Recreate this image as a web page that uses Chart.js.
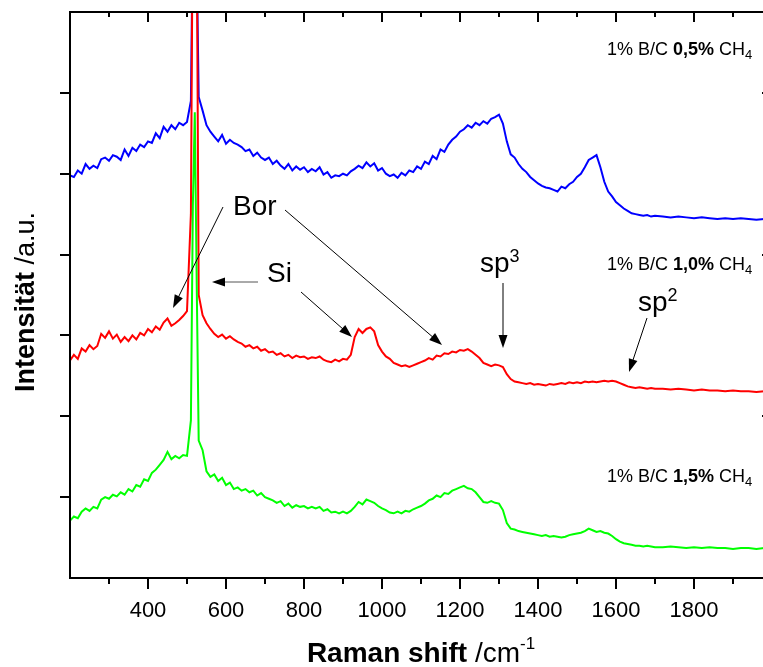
<!DOCTYPE html>
<html>
<head>
<meta charset="utf-8">
<script src="https://cdn.jsdelivr.net/npm/chart.js@4.4.1/dist/chart.umd.min.js"></script>
<style>
  html, body { margin: 0; padding: 0; background: #fff; overflow: hidden; }
  #wrap { width: 763px; height: 667px; overflow: hidden; }
</style>
</head>
<body>
<div id="wrap"><canvas id="raman" width="790" height="667"></canvas></div>
<script>
// Raman shift grid (cm^-1), denser around the Si line at 520
const shift = [
  200, 210, 220, 230, 240, 250, 260, 270, 280, 290,
  300, 310, 320, 330, 340, 350, 360, 370, 380, 390,
  400, 410, 420, 430, 440, 450, 460, 470, 480, 490,
  500, 510, 515, 520, 525, 530,
  540, 550, 560, 570, 580, 590, 600, 610, 620, 630,
  640, 650, 660, 670, 680, 690, 700, 710, 720, 730,
  740, 750, 760, 770, 780, 790, 800, 810, 820, 830,
  840, 850, 860, 870, 880, 890, 900, 910, 920, 930,
  940, 950, 960, 970, 980, 990, 1000, 1010, 1020, 1030,
  1040, 1050, 1060, 1070, 1080, 1090, 1100, 1110, 1120, 1130,
  1140, 1150, 1160, 1170, 1180, 1190, 1200, 1210, 1220, 1230,
  1240, 1250, 1260, 1270, 1280, 1290, 1300, 1310, 1320, 1330,
  1340, 1350, 1360, 1370, 1380, 1390, 1400, 1410, 1420, 1430,
  1440, 1450, 1460, 1470, 1480, 1490, 1500, 1510, 1520, 1530,
  1540, 1550, 1560, 1570, 1580, 1590, 1600, 1610, 1620, 1630,
  1640, 1650, 1660, 1670, 1680, 1690, 1700,
  1720, 1740, 1760, 1780, 1800, 1820, 1840, 1860, 1880, 1900,
  1920, 1940, 1960, 1980, 2000
];

// 1% B/C 0,5% CH4 (blue, offset on top)
const ch4_05 = [
  4.98, 4.96, 5.04, 5.00, 5.12, 5.06, 5.10, 5.07, 5.18, 5.20,
  5.16, 5.23, 5.21, 5.17, 5.30, 5.22, 5.32, 5.28, 5.36, 5.33,
  5.40, 5.38, 5.50, 5.44, 5.58, 5.52, 5.60, 5.55, 5.63, 5.60,
  5.64, 5.90, 8.00, 9.50, 7.60, 5.95,
  5.78, 5.60, 5.52, 5.46, 5.40, 5.48, 5.37, 5.42, 5.38, 5.36,
  5.33, 5.28, 5.30, 5.22, 5.26, 5.20, 5.17, 5.20, 5.12, 5.16,
  5.10, 5.06, 5.12, 5.04, 5.09, 5.05, 5.08, 5.02, 5.06, 5.03,
  5.08, 4.99, 5.02, 4.95, 4.98, 4.97, 5.00, 4.98, 5.03, 5.06,
  5.10, 5.07, 5.14, 5.09, 5.13, 5.04, 5.07, 5.00, 4.97, 4.99,
  4.95, 5.01, 4.98, 5.04, 5.02, 5.09, 5.06, 5.15, 5.12, 5.22,
  5.18, 5.30, 5.27, 5.36, 5.42, 5.46, 5.52, 5.55, 5.60, 5.57,
  5.63, 5.60, 5.65, 5.62, 5.68, 5.70, 5.73, 5.62, 5.40, 5.24,
  5.20, 5.12, 5.06, 5.02, 4.96, 4.92, 4.88, 4.85, 4.83, 4.82,
  4.80, 4.78, 4.84, 4.82, 4.87, 4.90, 4.96, 5.00, 5.08, 5.17,
  5.20, 5.23, 5.08, 4.90, 4.78, 4.72, 4.65, 4.61, 4.57, 4.54,
  4.51, 4.50, 4.49, 4.48, 4.49, 4.47, 4.48,
  4.47, 4.46, 4.47, 4.46, 4.45, 4.46, 4.45, 4.44, 4.45, 4.44,
  4.45, 4.44, 4.43, 4.44, 4.44
];

// 1% B/C 1,0% CH4 (red, middle)
const ch4_10 = [
  2.69, 2.76, 2.71, 2.84, 2.80, 2.88, 2.83, 2.87, 3.02, 2.97,
  3.05, 2.96, 3.01, 2.92, 2.98, 2.93, 3.00, 2.95, 3.03, 3.00,
  3.08, 3.04, 3.11, 3.07, 3.16, 3.21, 3.12, 3.15, 3.19, 3.24,
  3.30, 4.50, 8.50, 10.0, 8.00, 3.50,
  3.25, 3.15, 3.08, 3.02, 2.98, 3.01, 2.96, 2.99, 2.95, 2.92,
  2.90, 2.86, 2.88, 2.84, 2.86, 2.81, 2.83, 2.79, 2.80, 2.76,
  2.78, 2.74, 2.76, 2.72, 2.75, 2.73, 2.74, 2.71, 2.73, 2.72,
  2.74, 2.70, 2.68, 2.67, 2.70, 2.68, 2.71, 2.70, 2.76, 2.98,
  3.08, 3.03, 3.08, 3.10, 3.05, 2.88, 2.80, 2.74, 2.71, 2.66,
  2.64, 2.62, 2.63, 2.61, 2.63, 2.65, 2.67, 2.69, 2.72, 2.70,
  2.75, 2.74, 2.78, 2.77, 2.80, 2.79, 2.82, 2.81, 2.83, 2.80,
  2.76, 2.72, 2.66, 2.64, 2.62, 2.64, 2.63, 2.61, 2.52, 2.46,
  2.43, 2.42, 2.41, 2.40, 2.41, 2.39, 2.40, 2.39, 2.38, 2.40,
  2.39, 2.40, 2.41, 2.40, 2.42, 2.41, 2.42, 2.41, 2.43, 2.42,
  2.43, 2.42, 2.43, 2.44, 2.43, 2.44, 2.43, 2.41, 2.39, 2.37,
  2.36, 2.35, 2.36, 2.35, 2.34, 2.35, 2.34,
  2.34, 2.33, 2.34, 2.33, 2.32, 2.33, 2.32, 2.32, 2.31, 2.32,
  2.31, 2.31, 2.30, 2.31, 2.31
];

// 1% B/C 1,5% CH4 (green, bottom)
const ch4_15 = [
  0.71, 0.76, 0.74, 0.82, 0.86, 0.83, 0.88, 0.86, 0.97, 1.00,
  0.98, 1.03, 1.01, 1.06, 1.03, 1.10, 1.07, 1.15, 1.13, 1.22,
  1.20, 1.30, 1.34, 1.40, 1.46, 1.56, 1.47, 1.51, 1.48, 1.52,
  1.51, 1.95, 4.60, 5.76, 3.60, 1.70,
  1.58, 1.32, 1.25, 1.28, 1.20, 1.24, 1.15, 1.18, 1.10, 1.12,
  1.08, 1.10, 1.06, 1.08, 1.02, 1.05, 1.00, 0.98, 0.96, 0.93,
  0.95, 0.89, 0.92, 0.87, 0.90, 0.88, 0.89, 0.86, 0.88, 0.86,
  0.88, 0.83, 0.85, 0.81, 0.82, 0.80, 0.82, 0.80, 0.83, 0.88,
  0.94, 0.91, 0.97, 0.95, 0.93, 0.89, 0.86, 0.84, 0.81, 0.80,
  0.82, 0.80, 0.83, 0.82, 0.85, 0.87, 0.89, 0.92, 0.96, 0.98,
  1.02, 1.00, 1.05, 1.04, 1.08, 1.10, 1.12, 1.14, 1.11, 1.10,
  1.06, 1.00, 0.94, 0.93, 0.95, 0.93, 0.92, 0.84, 0.68, 0.61,
  0.60, 0.58, 0.57, 0.56, 0.55, 0.54, 0.53, 0.52, 0.53, 0.51,
  0.52, 0.51, 0.50, 0.51, 0.53, 0.54, 0.55, 0.56, 0.58, 0.61,
  0.59, 0.57, 0.58, 0.56, 0.55, 0.52, 0.48, 0.45, 0.43, 0.42,
  0.41, 0.40, 0.40, 0.39, 0.40, 0.39, 0.38,
  0.38, 0.39, 0.38, 0.37, 0.38, 0.37, 0.38, 0.37, 0.37, 0.36,
  0.37, 0.37, 0.36, 0.37, 0.37
];

// axis ticks
const xLabelTicks = [400, 600, 800, 1000, 1200, 1400, 1600, 1800];
const xMinorTicks = [300, 500, 700, 900, 1100, 1300, 1500, 1700, 1900];
const yLeftTicks = [1, 2, 3, 4, 5, 6];
const yRightTicks = [2, 4, 6];

const toPoints = ys => shift.map((s, i) => ({ x: s, y: ys[i] }));

const FONT = '"Liberation Sans", Arial, sans-serif';

// draw a run of text pieces [text, font, dy] one after another
function drawRuns(ctx, x, y, runs) {
    let cx = x;
    runs.forEach(([t, f, dy]) => {
        ctx.font = f;
        ctx.fillText(t, cx, y + (dy || 0));
        cx += ctx.measureText(t).width;
    });
    return cx - x;
}
function runsWidth(ctx, runs) {
    let w = 0;
    runs.forEach(([t, f]) => { ctx.font = f; w += ctx.measureText(t).width; });
    return w;
}

function arrow(ctx, x1, y1, x2, y2, color) {
    const ang = Math.atan2(y2 - y1, x2 - x1);
    const len = 13, half = 4.5;
    ctx.strokeStyle = color || '#000';
    ctx.lineWidth = 1;
    ctx.beginPath();
    ctx.moveTo(x1, y1);
    ctx.lineTo(x2 - Math.cos(ang) * len * 0.8, y2 - Math.sin(ang) * len * 0.8);
    ctx.stroke();
    ctx.fillStyle = '#000';
    ctx.beginPath();
    ctx.moveTo(x2, y2);
    ctx.lineTo(x2 - Math.cos(ang) * len - Math.sin(ang) * half, y2 - Math.sin(ang) * len + Math.cos(ang) * half);
    ctx.lineTo(x2 - Math.cos(ang) * len + Math.sin(ang) * half, y2 - Math.sin(ang) * len - Math.cos(ang) * half);
    ctx.closePath();
    ctx.fill();
}

// frame, ticks, labels and annotations
const decor = {
    id: 'decor',
    afterDraw(chart) {
        const { ctx, chartArea: a, scales: { x, y } } = chart;
        ctx.save();
        ctx.strokeStyle = '#000';
        ctx.lineWidth = 2;
        ctx.lineCap = 'butt';

        // box
        ctx.beginPath();
        ctx.rect(a.left, a.top, a.right - a.left, a.bottom - a.top);
        ctx.stroke();

        ctx.beginPath();
        // bottom: outward, top: inward
        xLabelTicks.forEach(v => {
            const px = Math.round(x.getPixelForValue(v));
            ctx.moveTo(px, a.bottom); ctx.lineTo(px, a.bottom + 11);
            ctx.moveTo(px, a.top); ctx.lineTo(px, a.top + 10);
        });
        xMinorTicks.forEach(v => {
            const px = Math.round(x.getPixelForValue(v));
            ctx.moveTo(px, a.bottom); ctx.lineTo(px, a.bottom + 6);
            ctx.moveTo(px, a.top); ctx.lineTo(px, a.top + 5);
        });
        // left outward, right inward
        yLeftTicks.forEach(v => {
            const py = Math.round(y.getPixelForValue(v));
            ctx.moveTo(a.left - 10, py); ctx.lineTo(a.left, py);
        });
        yRightTicks.forEach(v => {
            const py = Math.round(y.getPixelForValue(v));
            ctx.moveTo(a.right - 10, py); ctx.lineTo(a.right, py);
        });
        ctx.stroke();

        // tick labels
        ctx.fillStyle = '#000';
        ctx.textAlign = 'center';
        ctx.textBaseline = 'alphabetic';
        ctx.font = '22px ' + FONT;
        xLabelTicks.forEach(v => ctx.fillText(String(v), x.getPixelForValue(v), 617));

        // axis titles
        ctx.textAlign = 'left';
        const bold28 = 'bold 28px ' + FONT, reg28 = '28px ' + FONT, sup = '17px ' + FONT;
        const xt = [['Raman shift', bold28], [' /cm', reg28], ['-1', sup, -13]];
        drawRuns(ctx, 421 - runsWidth(ctx, xt) / 2, 662, xt);

        const bold27 = 'bold 27px ' + FONT, reg27 = '27px ' + FONT;
        const yt = [['Intensität', bold27], [' /a.u.', reg27]];
        ctx.save();
        ctx.translate(34, 302);
        ctx.rotate(-Math.PI / 2);
        drawRuns(ctx, -runsWidth(ctx, yt) / 2, 0, yt);
        ctx.restore();

        // sample labels
        const reg18 = '18px ' + FONT, bold18 = 'bold 18px ' + FONT, sub = '13px ' + FONT;
        [['0,5%', 55], ['1,0%', 270], ['1,5%', 482]].forEach(([c, by]) => {
            drawRuns(ctx, 607, by, [['1% B/C ', reg18], [c, bold18], [' CH', reg18], ['4', sub, 4]]);
        });

        // annotations
        const big = '28px ' + FONT, sup2 = '18px ' + FONT;
        ctx.font = big;
        ctx.fillText('Bor', 233, 215);
        ctx.fillText('Si', 267, 282);
        drawRuns(ctx, 480, 272, [['sp', big], ['3', sup2, -10]]);
        drawRuns(ctx, 638, 311, [['sp', big], ['2', sup2, -10]]);

        arrow(ctx, 223, 207, 173, 308);
        arrow(ctx, 285, 210, 442, 345);
        arrow(ctx, 258, 282, 212, 282, '#555');
        arrow(ctx, 301, 292, 352, 337);
        arrow(ctx, 503, 283, 503, 348);
        arrow(ctx, 647, 318, 629, 372);

        ctx.restore();
    }
};

const line = (data, color, order) => ({
    data: toPoints(data),
    borderColor: color,
    borderWidth: 2,
    pointRadius: 0,
    tension: 0,
    fill: false,
    order: order
});

new Chart(document.getElementById('raman'), {
    type: 'line',
    data: {
        datasets: [
            line(ch4_05, '#0000ff', 3),
            line(ch4_10, '#ff0000', 2),
            line(ch4_15, '#00ff00', 1)
        ]
    },
    options: {
        responsive: false,
        animation: false,
        devicePixelRatio: 1,
        layout: { padding: { left: 70, right: 18, top: 12, bottom: 89 } },
        scales: {
            x: { type: 'linear', min: 200, max: 2000, display: false },
            y: { min: 0, max: 7, display: false }
        },
        plugins: { legend: { display: false }, tooltip: { enabled: false } }
    },
    plugins: [decor]
});
</script>
</body>
</html>
